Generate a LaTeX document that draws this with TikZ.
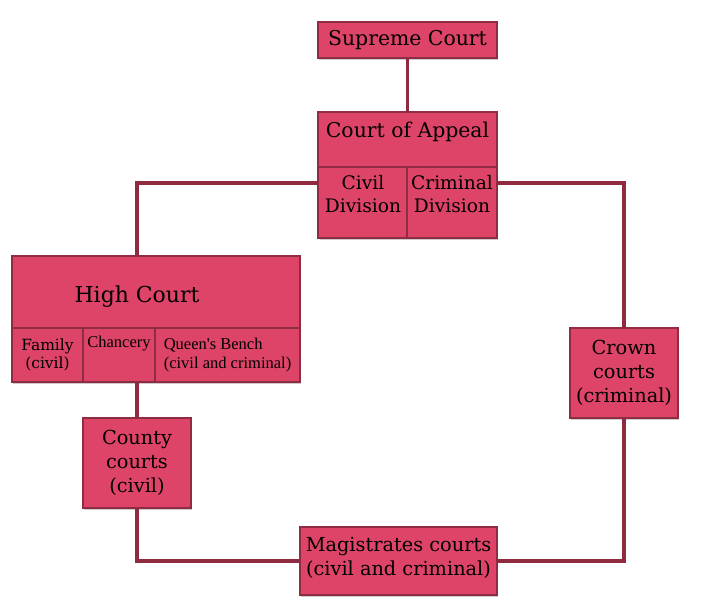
\documentclass[tikz,border=0pt]{standalone}
\usepackage{fontspec}
\setmainfont{DejaVu Serif}
\newfontfamily\benchfont{Liberation Serif}
\usetikzlibrary{shadows}
\definecolor{courtred}{HTML}{DE4468}
\definecolor{courtredd}{HTML}{8E2C44}
\definecolor{linkred}{HTML}{8F2B40}

\begin{document}
\begin{tikzpicture}[
    x=0.02cm, y=-0.02cm,
    court/.style={rectangle, draw=courtredd, fill=courtred, line width=0.9pt, align=center, inner sep=2pt,
      font=\fontsize{11}{13.6}\selectfont,
      drop shadow={shadow xshift=0.8pt, shadow yshift=-1.2pt, opacity=0.35, fill=black!60}},
    sub/.style={court, font=\fontsize{10.6}{13}\selectfont},
    bench/.style={court, font=\benchfont\fontsize{9.4}{11.2}\selectfont},
    link/.style={line width=1.8pt, draw=linkred}
  ]
  \useasboundingbox (0,0) rectangle (712,614);

  \node[court, minimum width=3.58cm, minimum height=0.72cm, font=\fontsize{11.6}{14}\selectfont] (sup) at (407.5,40) {Supreme Court};

  \node[court, minimum width=3.58cm, minimum height=1.1cm, text depth=0.38cm, font=\fontsize{11.6}{14}\selectfont] (appeal) at (407.5,139.5) {Court of Appeal};
  \node[sub, minimum width=1.79cm, minimum height=1.42cm, text depth=0.34cm] (civ)  at (363,202.5) {Civil\\Division};
  \node[sub, minimum width=1.79cm, minimum height=1.42cm, text depth=0.34cm] (crim) at (452,202.5) {Criminal\\Division};

  \node[court, minimum width=5.76cm, minimum height=1.44cm, text height=0.52cm, font=\fontsize{12.5}{15}\selectfont] (high) at (156,292) {\hspace*{-0.76cm}High Court};
  \node[sub, minimum width=1.42cm, minimum height=1.08cm, font=\fontsize{8.8}{10.4}\selectfont] (fam)  at (47.5,355) {Family\\(civil)};
  \node[bench, minimum width=1.44cm, minimum height=1.08cm] (chan) at (119,355) {Chancery\\\strut};
  \node[bench, minimum width=2.9cm, minimum height=1.08cm, align=left] (qb) at (227.5,355) {Queen's Bench\\(civil and criminal)};

  \node[court, minimum width=2.16cm, minimum height=1.8cm] (crown)  at (624,373) {Crown\\courts\\(criminal)};
  \node[court, minimum width=2.16cm, minimum height=1.8cm] (county) at (137,463) {County\\courts\\(civil)};

  \node[court, minimum width=3.94cm, minimum height=1.36cm, text depth=0.2cm] (mag) at (398.5,561) {Magistrates courts\\(civil and criminal)};

  \draw[link] (sup.south) -- (appeal.north);
  \draw[link] ([yshift=0.39cm]civ.west) -| (county.north |- high.north);
  \draw[link] ([yshift=0.39cm]crim.east) -| (crown.north);
  \draw[link] (county.north |- chan.south) -- (county.north);
  \draw[link] (county.south) |- (mag.west);
  \draw[link] (crown.south) |- (mag.east);
\end{tikzpicture}
\end{document}
